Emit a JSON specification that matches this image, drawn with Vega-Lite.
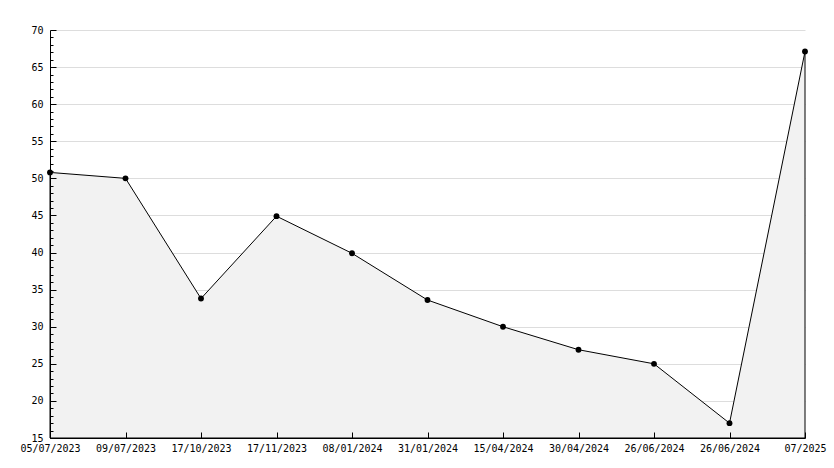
{
  "$schema": "https://vega.github.io/schema/vega-lite/v6.json",
  "width": 755,
  "height": 408,
  "autosize": "none",
  "padding": {"left": 50, "top": 30, "right": 29, "bottom": 30},
  "background": "white",
  "config": {"view": {"stroke": null}, "font": "DejaVu Sans Mono"},
  "data": {"values": [
    {"i": 0, "date": "05/07/2023", "value": 50.8},
    {"i": 1, "date": "09/07/2023", "value": 50.0},
    {"i": 2, "date": "17/10/2023", "value": 33.8},
    {"i": 3, "date": "17/11/2023", "value": 44.9},
    {"i": 4, "date": "08/01/2024", "value": 39.9},
    {"i": 5, "date": "31/01/2024", "value": 33.6},
    {"i": 6, "date": "15/04/2024", "value": 30.0},
    {"i": 7, "date": "30/04/2024", "value": 26.9},
    {"i": 8, "date": "26/06/2024", "value": 25.0},
    {"i": 9, "date": "26/06/2024", "value": 17.0},
    {"i": 10, "date": "07/2025", "value": 67.1}
  ]},
  "resolve": {"axis": {"y": "independent", "x": "independent"}},
  "layer": [
    {
      "mark": {"type": "point", "opacity": 0},
      "encoding": {
        "x": {"field": "i", "type": "ordinal", "scale": {"type": "point", "padding": 0}, "axis": null},
        "y": {
          "field": "value", "type": "quantitative",
          "scale": {"domain": [15, 70], "zero": false, "nice": false},
          "axis": {
            "title": null, "orient": "left",
            "values": [20, 25, 30, 35, 40, 45, 50, 55, 60, 65, 70],
            "grid": true, "gridColor": "#dddddd", "ticks": false, "labels": false, "domain": false,
            "zindex": 0
          }
        }
      }
    },
    {
      "mark": {"type": "area", "fill": "#f2f2f2", "stroke": "black", "strokeWidth": 1},
      "encoding": {
        "x": {"field": "i", "type": "ordinal", "scale": {"type": "point", "padding": 0}, "axis": null},
        "y": {"field": "value", "type": "quantitative", "axis": null},
        "y2": {"datum": 15}
      }
    },
    {
      "mark": {"type": "point", "shape": "circle", "filled": true, "color": "black", "size": 34, "opacity": 1},
      "encoding": {
        "x": {
          "field": "i", "type": "ordinal",
          "scale": {"type": "point", "padding": 0},
          "axis": {
            "title": null, "labelAngle": 0,
            "labelExpr": "['05/07/2023','09/07/2023','17/10/2023','17/11/2023','08/01/2024','31/01/2024','15/04/2024','30/04/2024','26/06/2024','26/06/2024','07/2025'][datum.value]",
            "tickSize": -6, "tickColor": "black", "domainColor": "black",
            "labelColor": "black", "labelFont": "DejaVu Sans Mono", "labelFontSize": 10,
            "labelPadding": 11, "grid": false, "labelOverlap": false, "labelFlush": false,
            "zindex": 1
          }
        },
        "y": {
          "field": "value", "type": "quantitative",
          "axis": {
            "title": null, "orient": "left",
            "values": [15,16,17,18,19,20,21,22,23,24,25,26,27,28,29,30,31,32,33,34,35,36,37,38,39,40,41,42,43,44,45,46,47,48,49,50,51,52,53,54,55,56,57,58,59,60,61,62,63,64,65,66,67,68,69,70],
            "labelExpr": "datum.value % 5 === 0 ? datum.label : ''",
            "tickSize": {"condition": {"test": "datum.value % 5 === 0", "value": -6}, "value": -3},
            "tickColor": "black", "domainColor": "black", "grid": false,
            "labelColor": "black", "labelFont": "DejaVu Sans Mono", "labelFontSize": 10,
            "labelPadding": 13, "labelOverlap": false,
            "zindex": 1
          }
        }
      }
    }
  ]
}
